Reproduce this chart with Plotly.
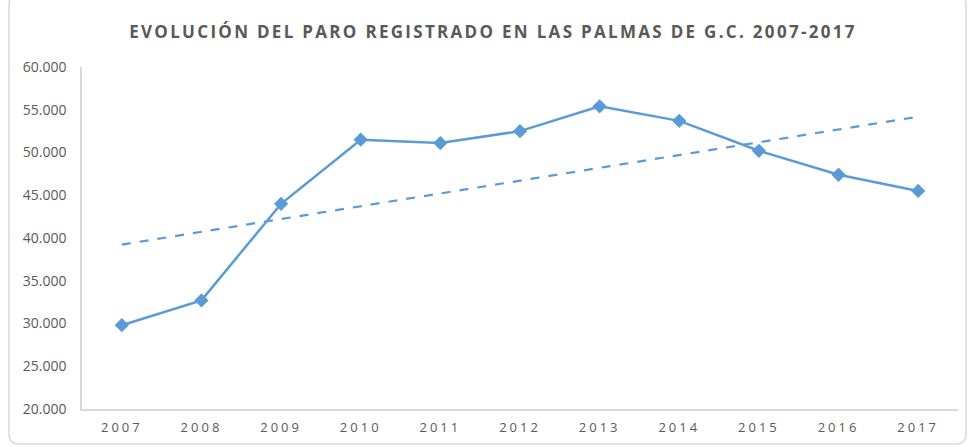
import numpy as np
import plotly.graph_objects as go

years = ["2007", "2008", "2009", "2010", "2011", "2012", "2013", "2014", "2015", "2016", "2017"]
paro = [29800, 32700, 44000, 51500, 51100, 52500, 55400, 53700, 50200, 47400, 45500]
y_ticks = [20000, 25000, 30000, 35000, 40000, 45000, 50000, 55000, 60000]

idx = np.arange(len(years))
slope, intercept = np.polyfit(idx, paro, 1)
trend = slope * idx + intercept

color = "#5B9BD5"
fig = go.Figure()
fig.add_trace(go.Scatter(x=years, y=trend, mode="lines",
                         line=dict(color=color, width=2.2, dash="dash"),
                         hoverinfo="skip", showlegend=False))
fig.add_trace(go.Scatter(x=years, y=paro, mode="lines+markers",
                         line=dict(color=color, width=2.5),
                         marker=dict(symbol="diamond", size=11, color=color),
                         showlegend=False))

L, R, T, B = 82, 10, 67, 38
W, H = 968, 447
pw, ph = W - L - R, H - T - B
def px(x): return (x - L) / pw
def py(y): return (H - B - y) / ph
x0, x1, y0, y1 = 9, 966, -5, 444
r = 10
path = (f"M {px(x0+r)},{py(y0)} L {px(x1-r)},{py(y0)} Q {px(x1)},{py(y0)} {px(x1)},{py(y0+r)} "
        f"L {px(x1)},{py(y1-r)} Q {px(x1)},{py(y1)} {px(x1-r)},{py(y1)} "
        f"L {px(x0+r)},{py(y1)} Q {px(x0)},{py(y1)} {px(x0)},{py(y1-r)} "
        f"L {px(x0)},{py(y0+r)} Q {px(x0)},{py(y0)} {px(x0+r)},{py(y0)} Z")

fig.update_layout(
    width=W, height=H,
    margin=dict(l=L, r=R, t=T, b=B),
    paper_bgcolor="white", plot_bgcolor="white",
    separators=",.",
    font=dict(family="Open Sans, Liberation Sans, sans-serif", color="#595959"),
    title=dict(text="<b>EVOLUCIÓN DEL PARO REGISTRADO EN LAS PALMAS DE G.C. 2007-2017</b>",
               x=px(493), xref="paper", xanchor="center",
               y=1 - 32 / H, yref="container", yanchor="middle",
               font=dict(size=17, color="#595959", family="Open Sans, sans-serif")),
    xaxis=dict(type="category", range=[-0.5, 10.5], showgrid=False,
               showline=True, linecolor="#d9d9d9", linewidth=1.5,
               ticks="", tickfont=dict(size=13, color="#595959"), ticklabelstandoff=6),
    yaxis=dict(range=[20000, 60000], tickvals=y_ticks, tickformat=",.0f",
               showgrid=False, zeroline=False,
               showline=True, linecolor="#d9d9d9", linewidth=1.5,
               ticks="", tickfont=dict(size=14, color="#595959"), ticklabelstandoff=11),
    shapes=[dict(type="path", path=path, xref="paper", yref="paper",
                 line=dict(color="#d9d9d9", width=1.5), layer="below")],
)

post = """
document.body.style.margin='0';
document.body.style.overflow='hidden';
document.querySelectorAll('.gtitle').forEach(function(e){e.style.letterSpacing='2.3px';});
document.querySelectorAll('.xtick text').forEach(function(e){e.style.letterSpacing='3px';});
"""
fig.write_html("out.html", post_script=post, config={"displayModeBar": False})
